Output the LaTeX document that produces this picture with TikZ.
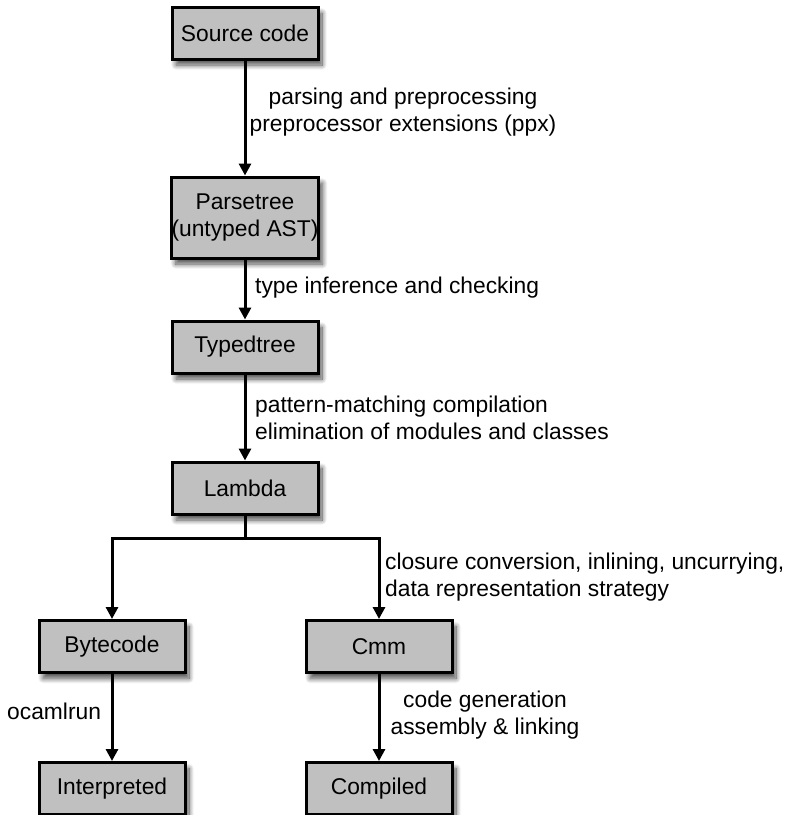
\documentclass[tikz,border=0pt]{standalone}
\usepackage{fontspec}
\setmainfont{Liberation Sans}
\usetikzlibrary{arrows.meta,shadows.blur}
\begin{document}
\begin{tikzpicture}[x=1pt,y=-1pt,
  stage/.style={draw=black, line width=3pt, fill=boxgray, minimum width=146pt,
    minimum height=52pt, inner sep=0pt, align=center,
    font=\fontsize{22.8}{27}\selectfont,
    blur shadow={shadow xshift=4pt, shadow yshift=-6pt, shadow blur radius=5pt, shadow blur steps=12, shadow opacity=70}},
  lbl/.style={inner sep=0pt, font=\fontsize{22.8}{26.5}\selectfont},
  flow/.style={line width=3pt, -{Triangle[length=12pt,width=12pt]}}
]
\definecolor{boxgray}{RGB}{192,192,192}
\useasboundingbox (0,0) rectangle (796,815);
\node[stage] (src) at (245,33) {Source code};
\node[stage, minimum height=81pt] (parse) at (245,217.5) {Parsetree\\(untyped AST)};
\node[stage] (typed) at (245,347) {Typedtree};
\node[stage] (lambda) at (245,488) {Lambda};
\node[stage] (byte) at (112,646.5) {Bytecode};
\node[stage] (cmm) at (379,646.5) {Cmm};
\node[stage] (interp) at (112,788.5) {Interpreted};
\node[stage] (comp) at (379,788.5) {Compiled};
\coordinate (br) at (245,538);

\draw[flow] (src) -- (parse);
\draw[flow] (parse) -- (typed);
\draw[flow] (typed) -- (lambda);
\draw[line width=3pt] (lambda.south) -- (br);
\draw[flow] (br) -| (byte.north);
\draw[flow] (br) -| (cmm.north);
\draw[flow] (byte) -- (interp);
\draw[flow] (cmm) -- (comp);

\node[lbl, anchor=base, align=center] (l1) at (403,131) {parsing and preprocessing\\preprocessor extensions (ppx)};
\node[lbl, anchor=base west] (l2) at (255,293) {type inference and checking};
\node[lbl, anchor=base west, align=left] (l3) at (255,439) {pattern-matching compilation\\elimination of modules and classes};
\node[lbl, anchor=base west, align=left] (l4) at (385,596) {closure conversion, inlining, uncurrying,\\data representation strategy};
\node[lbl, anchor=base, align=center] (l5) at (485,734) {code generation\\assembly \& linking};
\node[lbl, anchor=base west] (l6) at (7,719) {ocamlrun};
\end{tikzpicture}
\end{document}
